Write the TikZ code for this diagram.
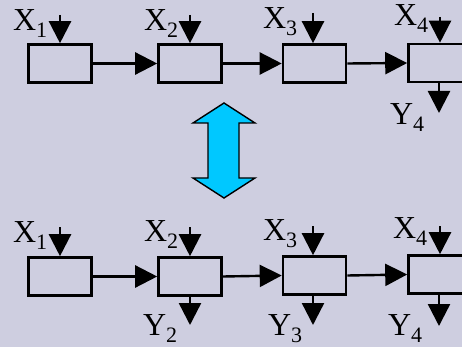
\documentclass[tikz,border=0pt]{standalone}
\usepackage{fontspec}
\setmainfont{Liberation Serif}
\usetikzlibrary{arrows.meta}
\definecolor{bgcol}{RGB}{206,206,224}
\definecolor{cyanfill}{RGB}{0,200,255}
% variable with a subscript, e.g. X_1
\newcommand\varsub[2]{{\fontsize{32}{32}\selectfont #1}\raisebox{-7pt}{\fontsize{22}{22}\selectfont #2}}
\tikzset{
  blockbox/.style={draw=black, line width=2.6pt, rectangle, minimum width=63pt, minimum height=38pt, inner sep=0pt},
  conn/.style={line width=2.4pt, -{Triangle[length=22pt,width=22pt]}},
  iolbl/.style={anchor=base west, inner sep=0pt, outer sep=0pt},
}
\begin{document}
\begin{tikzpicture}[x=1pt,y=-1pt]
\fill[bgcol] (0,0) rectangle (462,347);
\useasboundingbox (0,0) rectangle (462,347);
\clip (0,0) rectangle (462,347);

% ---- upper chain: only the last block has an output ----
\node[blockbox] (a1) at (60,63.5) {};
\node[blockbox] (a2) at (190,63.5) {};
\node[blockbox] (a3) at (314.5,63.5) {};
\node[blockbox] (a4) at (440,63) {};
\draw[conn] (a1.east) -- (a2.west);
\draw[conn] (a2.east) -- (a3.west);
\draw[conn] (a3.east) -- (a4.west);

\coordinate (ax1) at (60,15);
\coordinate (ax2) at (190,15);
\coordinate (ax3) at (313,13);
\coordinate (ax4) at (440,17);
\draw[conn] (ax1) -- (ax1 |- a1.north);
\draw[conn] (ax2) -- (ax2 |- a2.north);
\draw[conn] (ax3) -- (ax3 |- a3.north);
\draw[conn] (ax4) -- (ax4 |- a4.north);
\coordinate (ay4) at (439,113);
\draw[conn] (ay4 |- a4.south) -- (ay4);

\node[iolbl] (lx1) at (13,31) {\varsub{X}{1}};
\node[iolbl] (lx2) at (144,31) {\varsub{X}{2}};
\node[iolbl] (lx3) at (263,29) {\varsub{X}{3}};
\node[iolbl] (lx4) at (394,26) {\varsub{X}{4}};
\node[iolbl] (ly4) at (390,125) {\varsub{Y}{4}};

% ---- equivalence arrow ----
\filldraw[fill=cyanfill, draw=black, line width=1.4pt, line join=miter]
  (224,103) -- (255,123) -- (239,123) -- (239,178) -- (255,178) -- (224,198)
  -- (193,178) -- (208,178) -- (208,123) -- (193,123) -- cycle;

% ---- lower chain: every block after the first has an output ----
\node[blockbox] (b1) at (60,276.5) {};
\node[blockbox] (b2) at (190,276.5) {};
\node[blockbox] (b3) at (314.5,275.5) {};
\node[blockbox] (b4) at (440,274.5) {};
\draw[conn] (b1.east) -- (b2.west);
\draw[conn] (b2.east) -- (b3.west);
\draw[conn] (b3.east) -- (b4.west);

\coordinate (bx1) at (60,227);
\coordinate (bx2) at (190,227);
\coordinate (bx3) at (313,226);
\coordinate (bx4) at (440,226);
\draw[conn] (bx1) -- (bx1 |- b1.north);
\draw[conn] (bx2) -- (bx2 |- b2.north);
\draw[conn] (bx3) -- (bx3 |- b3.north);
\draw[conn] (bx4) -- (bx4 |- b4.north);
\coordinate (by2) at (190,325);
\coordinate (by3) at (313,325);
\coordinate (by4) at (439,326);
\draw[conn] (by2 |- b2.south) -- (by2);
\draw[conn] (by3 |- b3.south) -- (by3);
\draw[conn] (by4 |- b4.south) -- (by4);

\node[iolbl] (mx1) at (13,242) {\varsub{X}{1}};
\node[iolbl] (mx2) at (144,241) {\varsub{X}{2}};
\node[iolbl] (mx3) at (263,240) {\varsub{X}{3}};
\node[iolbl] (mx4) at (393,238) {\varsub{X}{4}};
\node[iolbl] (my2) at (143,335) {\varsub{Y}{2}};
\node[iolbl] (my3) at (268,335) {\varsub{Y}{3}};
\node[iolbl] (my4) at (388,335) {\varsub{Y}{4}};
\end{tikzpicture}
\end{document}
